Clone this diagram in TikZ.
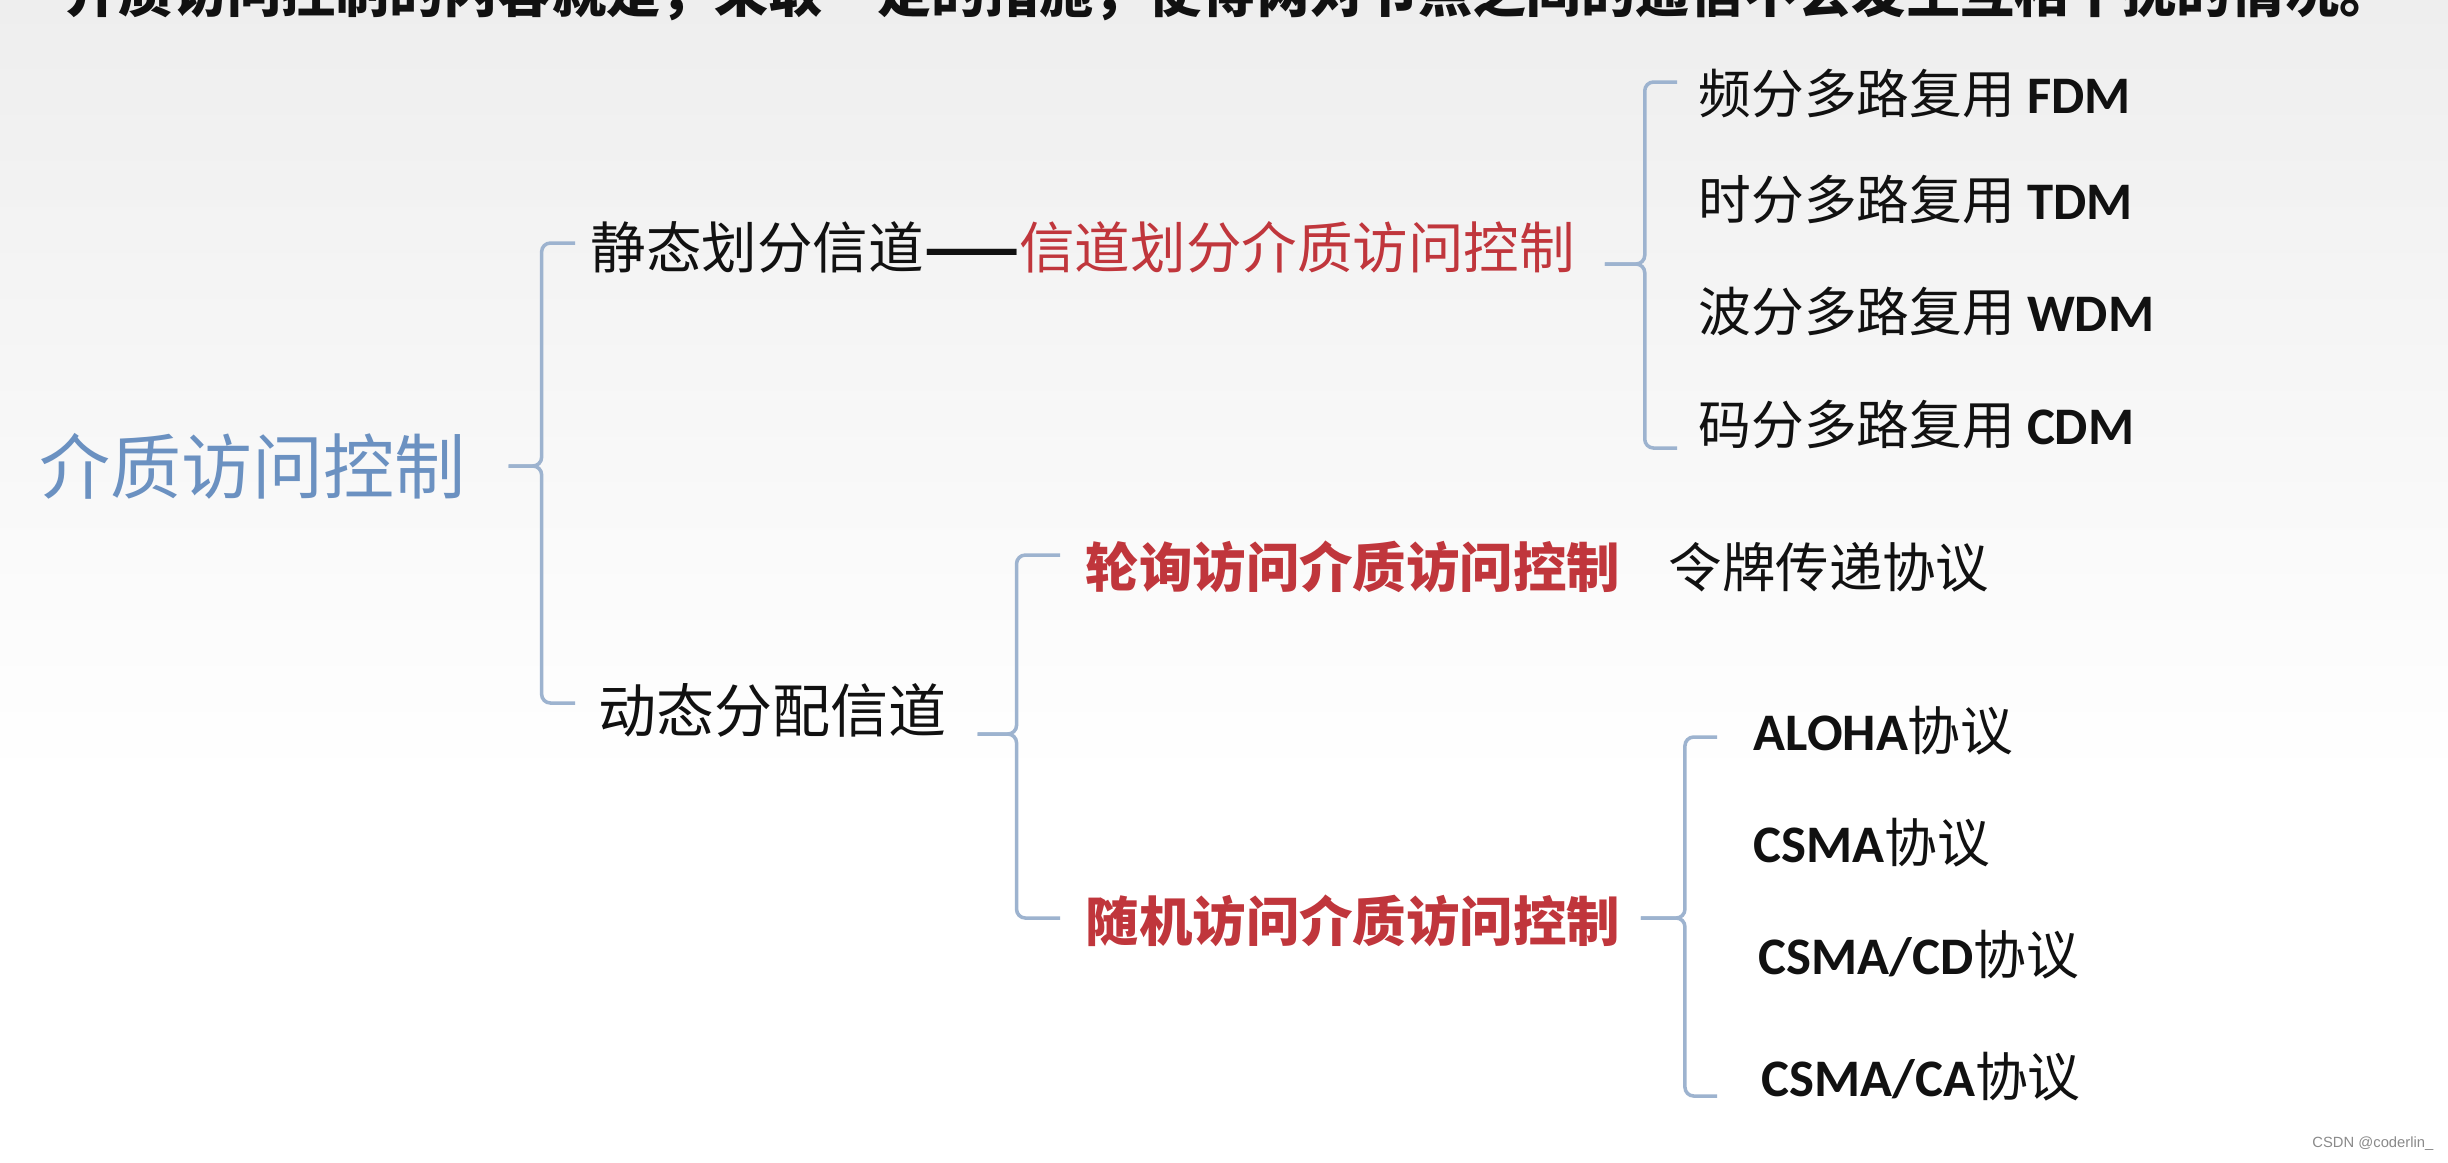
\documentclass[tikz,border=0pt]{standalone}
\usepackage{fontspec}
\usepackage{tikz}
\usetikzlibrary{positioning,calc}
\setmainfont{Carlito}
\newfontfamily\cjk{Noto Sans CJK SC}
\newfontfamily\wmfont{Liberation Sans}
\definecolor{ink}{HTML}{111111}
\definecolor{rootblue}{HTML}{6B91C1}
\definecolor{accent}{HTML}{C0363C}
\definecolor{bracecol}{HTML}{9DB3CF}
\definecolor{paper}{HTML}{EEEEEE}
\definecolor{grey}{HTML}{8A8A8A}
\newcommand{\en}[1]{{\rmfamily\bfseries #1}}
\tikzset{
  roottxt/.style={anchor=west,inner sep=0pt,text=rootblue,font=\cjk\fontsize{20.2}{24}\selectfont},
  txt/.style={anchor=west,inner sep=0pt,text=ink,font=\cjk\fontsize{15.8}{19}\selectfont},
  redtxt/.style={anchor=west,inner sep=0pt,text=accent,font=\cjk\bfseries\fontsize{15.2}{18}\selectfont},
  leaf/.style={anchor=west,inner sep=0pt,text=ink,font=\cjk\fontsize{15}{18}\selectfont},
  brace/.style={draw=bracecol,line width=1pt,rounded corners=2.5pt},
  bracket/.style={to path={-- ++(#1,0) |- (\tikztotarget)}}}

\begin{document}
\begin{tikzpicture}[x=0.01cm,y=-0.01cm]
  \useasboundingbox (0,0) rectangle (2448,1162);
  \fill[top color=paper,bottom color=white] (0,0) rectangle (2448,780);
  \fill[white] (0,780) rectangle (2448,1162);
  \node[anchor=base west,inner sep=0pt,text=ink,font=\cjk\bfseries\fontsize{15.4}{18}\selectfont] (intro) at (64,12) {介质访问控制的内容就是，采取一定的措施，使得两对节点之间的通信不会发生互相干扰的情况。};
  \node[roottxt] (root) at (39,466) {介质访问控制};
  \node[txt] (static) at (590,247) {静态划分信道\textbf{——}{\color{accent}信道划分介质访问控制}};
  \node[txt,font=\cjk\fontsize{16.5}{20}\selectfont] (dyn) at (598,710) {动态分配信道};
  \node[leaf] (fdm) at (1698,94) {频分多路复用 \en{FDM}};
  \node[leaf] (tdm) at (1698,200) {时分多路复用 \en{TDM}};
  \node[leaf] (wdm) at (1698,312) {波分多路复用 \en{WDM}};
  \node[leaf] (cdm) at (1698,425) {码分多路复用 \en{CDM}};
  \node[redtxt] (poll) at (1085,567) {轮询访问介质访问控制};
  \node[leaf,right=4.7mm of poll,font=\cjk\fontsize{15.2}{18}\selectfont] (token) {令牌传递协议};
  \node[redtxt] (rand) at (1085,921) {随机访问介质访问控制};
  \node[leaf] (aloha) at (1753,731) {\en{ALOHA}协议};
  \node[leaf] (csma) at (1753,843) {\en{CSMA}协议};
  \node[leaf] (csmacd) at (1758,955) {\en{CSMA/CD}协议};
  \node[leaf] (csmaca) at (1761,1077) {\en{CSMA/CA}协议};
  \node[anchor=east,inner sep=0pt,text=grey,font=\wmfont\fontsize{4.2}{5}\selectfont] (mark) at (2434,1144) {CSDN @coderlin\_};
  \draw[brace] ($(root.east)+(42,0)$) to[bracket=33] ($(static.west)+(-15,-4)$);
  \draw[brace] ($(root.east)+(42,0)$) to[bracket=33] ($(dyn.west)+(-23,-7)$);
  \draw[brace] ($(static.east)+(29,17)$) to[bracket=40] ($(fdm.west)+(-21,-12)$);
  \draw[brace] ($(static.east)+(29,17)$) to[bracket=40] ($(cdm.west)+(-21,23)$);
  \draw[brace] ($(dyn.east)+(30,24)$) to[bracket=39] ($(poll.west)+(-25,-12)$);
  \draw[brace] ($(dyn.east)+(30,24)$) to[bracket=39] ($(rand.west)+(-25,-3)$);
  \draw[brace] ($(rand.east)+(20,-3)$) to[bracket=44] ($(aloha.west)+(-36,6)$);
  \draw[brace] ($(rand.east)+(20,-3)$) to[bracket=44] ($(csmaca.west)+(-44,19)$);
\end{tikzpicture}
\end{document}
